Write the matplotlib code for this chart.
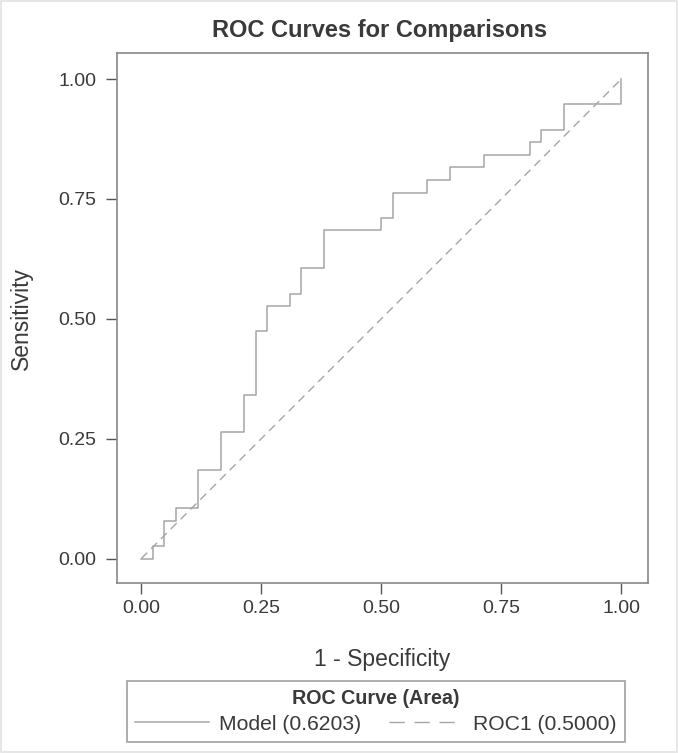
import matplotlib
matplotlib.use("Agg")
import matplotlib.pyplot as plt
from matplotlib.patches import Rectangle
from matplotlib.lines import Line2D

plt.rcParams['font.family'] = ['Liberation Sans', 'DejaVu Sans']

# Data
fpr = [0.0, 0.0238, 0.0476, 0.0714, 0.1190, 0.1667, 0.2143, 0.2381, 0.2619, 0.3095,
       0.3333, 0.3810, 0.5000, 0.5238, 0.5952, 0.6429, 0.7143, 0.8095, 0.8333, 0.8810, 1.0]
tpr = [0.0, 0.0263, 0.0789, 0.1053, 0.1842, 0.2632, 0.3421, 0.4737, 0.5263, 0.5526,
       0.6053, 0.6842, 0.7105, 0.7632, 0.7895, 0.8158, 0.8421, 0.8684, 0.8947, 0.9474, 1.0]
ref_x = [0.0, 1.0]
ref_y = [0.0, 1.0]
ticks = [0.0, 0.25, 0.5, 0.75, 1.0]
tick_labels = ["0.00", "0.25", "0.50", "0.75", "1.00"]
series_labels = ["Model (0.6203)", "ROC1 (0.5000)"]

W, H = 678, 753
fig = plt.figure(figsize=(W / 100, H / 100), dpi=100)
fig.patch.set_facecolor('white')

# axes frame pixels: left 117, right 648, top 53, bottom 583
ax = fig.add_axes([117 / W, 1 - 583 / H, (648 - 117) / W, (583 - 53) / H])
txt = '#3a3a3a'
frame = '#888888'
linec = '#a5a5a5'

ax.plot(fpr, tpr, drawstyle='steps-post', color=linec, lw=1.1)
ax.plot(ref_x, ref_y, color=linec, lw=1.0, dashes=(6, 4))

ax.set_xlim(-0.0506, 1.0556)
ax.set_ylim(-0.051, 1.0543)
ax.set_xticks(ticks)
ax.set_xticklabels(tick_labels)
ax.set_yticks(ticks)
ax.set_yticklabels(tick_labels)
ax.tick_params(direction='out', length=8, width=1, color='#555555', labelcolor=txt,
               labelsize=14)
ax.tick_params(axis='x', pad=4)
ax.tick_params(axis='y', pad=7)
for s in ax.spines.values():
    s.set_color(frame)
    s.set_linewidth(1.2)

ax.set_xlabel('1 - Specificity', fontsize=16.5, color=txt, labelpad=22.5)
ax.set_ylabel('Sensitivity', fontsize=16.5, color=txt, labelpad=18)
fig.text(380 / W, 1 - 30 / H, 'ROC Curves for Comparisons', ha='center', va='center',
         fontsize=17, fontweight='bold', color=txt)

handles = [Line2D([], [], color=linec, lw=1.1),
           Line2D([], [], color=linec, lw=1.0, dashes=(11, 7))]
leg = fig.legend(handles, series_labels, loc='center', ncol=2,
                 bbox_to_anchor=(376 / W, 1 - 711.5 / H),
                 title='ROC Curve (Area)', fontsize=15.2, frameon=True, fancybox=False,
                 handlelength=3.5, handletextpad=0.5, columnspacing=1.3,
                 borderpad=0.38, labelspacing=0.3, borderaxespad=0)
leg.get_title().set_fontweight('bold')
leg.get_title().set_fontsize(14.2)
leg.get_title().set_color(txt)
for t in leg.get_texts():
    t.set_color(txt)
leg.get_frame().set_edgecolor(frame)
leg.get_frame().set_linewidth(1.2)

# figure border
fig.patches.append(Rectangle((0.001, 0.001), 0.998, 0.998, transform=fig.transFigure,
                             fill=False, edgecolor='#e2e2e2', lw=1.2))

fig.savefig('out.png', dpi=100)
